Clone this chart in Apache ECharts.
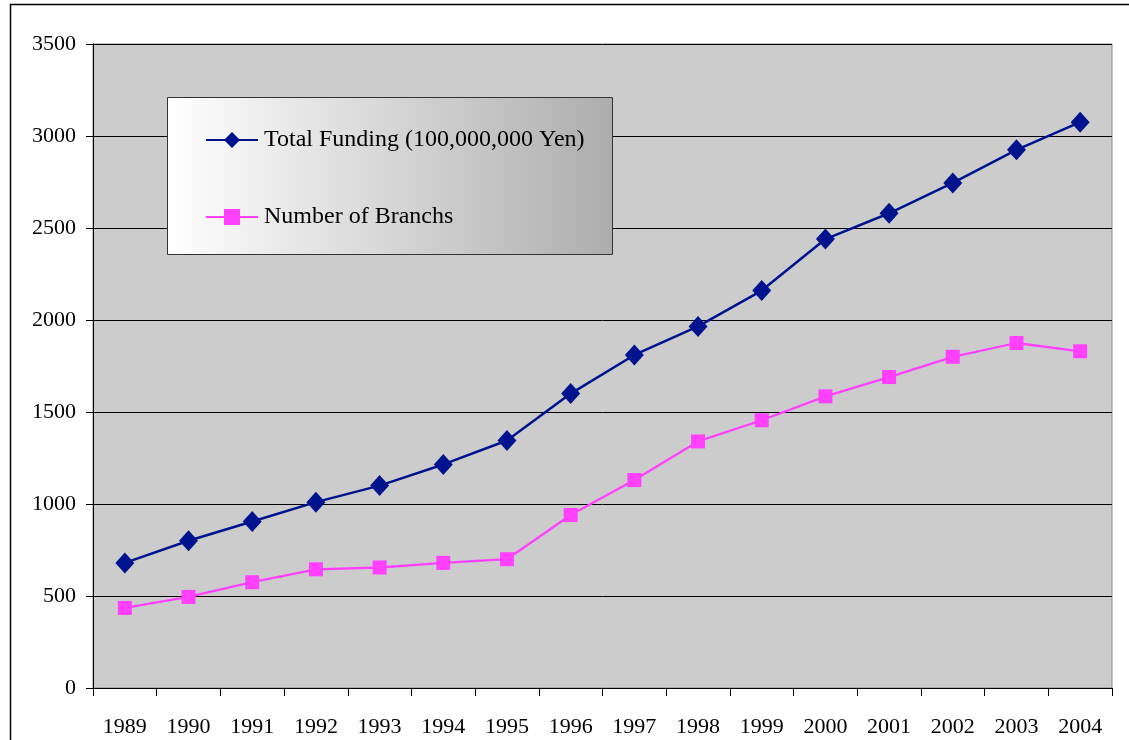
<!DOCTYPE html>
<html>
<head>
<meta charset="utf-8">
<script src="https://cdn.jsdelivr.net/npm/echarts@6/dist/echarts.min.js"></script>
<style>
  html, body { margin: 0; padding: 0; background: #fff; }
  #main { width: 1129px; height: 740px; }
</style>
</head>
<body>
<div id="main"></div>
<script>
var years = ['1989','1990','1991','1992','1993','1994','1995','1996','1997','1998','1999','2000','2001','2002','2003','2004'];
var funding = [680, 800, 905, 1010, 1100, 1215, 1345, 1600, 1810, 1965, 2160, 2440, 2580, 2745, 2925, 3075];
var branches = [435, 495, 575, 645, 655, 680, 700, 940, 1130, 1340, 1455, 1585, 1690, 1800, 1875, 1830];

var font = '"Liberation Serif", "DejaVu Serif", serif';
var chart = echarts.init(document.getElementById('main'));

chart.setOption({
  animation: false,
  textStyle: { fontFamily: font },
  grid: {
    left: 93, right: 17, top: 44, bottom: 52,
    show: true, backgroundColor: '#cccccc', borderColor: '#888888', borderWidth: 1
  },
  graphic: [
    // outer frame, bottom edge falls outside the picture
    { type: 'rect', left: 8, top: 2, z: -10,
      shape: { width: 1200, height: 800 },
      style: { fill: 'none', stroke: '#000', lineWidth: 1.5 } },
    // legend box
    { type: 'rect', left: 167, top: 97, z: 5,
      shape: { width: 445, height: 157 },
      style: {
        fill: new echarts.graphic.LinearGradient(0, 0, 1, 0, [
          { offset: 0, color: '#ffffff' },
          { offset: 1, color: '#adadad' }
        ]),
        stroke: '#333', lineWidth: 1
      } }
  ],
  legend: {
    orient: 'vertical',
    left: 205, top: 128, padding: 0,
    itemWidth: 52, itemHeight: 20, itemGap: 53,
    z: 10,
    textStyle: { fontFamily: font, fontSize: 24, lineHeight: 20, color: '#000', padding: [0, 0, 0, 1] },
    data: ['Total Funding (100,000,000 Yen)', 'Number of Branchs']
  },
  xAxis: {
    type: 'category',
    data: years,
    boundaryGap: true,
    axisLine: { lineStyle: { color: '#000', width: 1 } },
    axisTick: { show: true, length: 8, lineStyle: { color: '#000' } },
    axisLabel: { color: '#000', fontFamily: font, fontSize: 22, margin: 28 },
    splitLine: { show: false }
  },
  yAxis: {
    type: 'value',
    min: 0, max: 3500, interval: 500,
    axisLine: { show: true, lineStyle: { color: '#000', width: 1 } },
    axisTick: { show: true, length: 7, lineStyle: { color: '#000' } },
    axisLabel: { color: '#000', fontFamily: font, fontSize: 22, margin: 17,
      formatter: function (v) { return String(v); } },
    splitLine: { show: true, lineStyle: { color: '#000', width: 1 } }
  },
  series: [
    {
      name: 'Total Funding (100,000,000 Yen)',
      type: 'line',
      data: funding,
      symbol: 'diamond',
      symbolSize: [19, 21],
      lineStyle: { color: '#00138e', width: 2.5 },
      itemStyle: { color: '#00138e' }
    },
    {
      name: 'Number of Branchs',
      type: 'line',
      data: branches,
      symbol: 'rect',
      symbolSize: 14,
      lineStyle: { color: '#ff40ff', width: 2.3 },
      itemStyle: { color: '#ff40ff' }
    }
  ]
});
</script>
</body>
</html>
